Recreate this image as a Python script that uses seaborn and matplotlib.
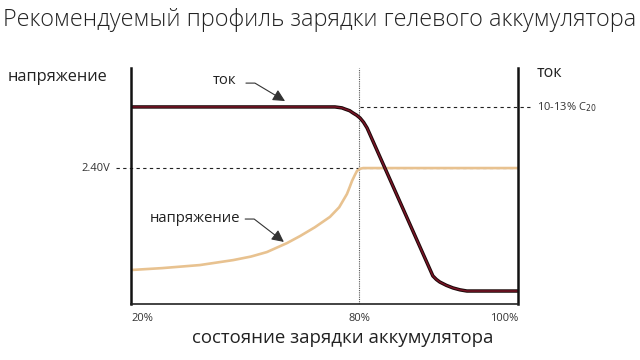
import pandas as pd
import matplotlib.pyplot as plt
import matplotlib.patheffects as pe
import seaborn as sns

# Curves (x: 0..100 along the axis, y: 0..100 up the axis)
current_x = [0, 52.7, 54.5, 55.3, 56.5, 57.4, 58.3, 59.2, 60.1, 61.0, 78.0, 78.9, 79.8, 81.5, 83.2, 85.0, 86.8, 100]
current_y = [83.5, 83.5, 83.1, 82.6, 81.9, 80.9, 80.0, 78.8, 77.0, 74.6, 11.9, 10.4, 9.3, 7.9, 6.8, 6.0, 5.5, 5.5]
voltage_x = [0, 8.0, 17.8, 26.4, 31.0, 35.1, 40.3, 43.7, 47.5, 51.4, 53.8, 55.8, 56.5, 57.1, 57.8, 58.4, 59.2, 60.0, 100]
voltage_y = [14.4, 15.2, 16.5, 18.6, 20.1, 22.0, 25.8, 28.8, 32.5, 36.9, 41.0, 46.6, 49.5, 52.1, 54.5, 56.4, 57.3, 57.6, 57.6]

tick_pos = [0, 58.9, 100]
tick_labels = ["20%", "80%", "100%"]
v_level = 57.6
i_level = 83.5

sns.set_theme(style="white")
plt.rcParams["font.family"] = ["Open Sans", "DejaVu Sans"]

df_i = pd.DataFrame({"x": current_x, "y": current_y})
df_v = pd.DataFrame({"x": voltage_x, "y": voltage_y})

fig = plt.figure(figsize=(6.4, 3.6), dpi=100)
ax = fig.add_axes([131 / 640, 56 / 360, 387 / 640, 236 / 360])

# reference lines
ax.plot([-4, 100], [v_level, v_level], ls=(0, (3, 3)), color="#222", lw=0.8, clip_on=False)
ax.plot([59.2, 103], [i_level, i_level], ls=(0, (3, 3)), color="#222", lw=0.8, clip_on=False)
ax.axvline(tick_pos[1], ls=(0, (1, 1)), color="#555", lw=0.8)

sns.lineplot(data=df_v, x="x", y="y", ax=ax, color="#e8c290", lw=1.9,
             sort=False, solid_capstyle="butt", solid_joinstyle="round")
sns.lineplot(data=df_i, x="x", y="y", ax=ax, color="#7a1426", lw=1.1,
             sort=False, solid_capstyle="butt", solid_joinstyle="round",
             path_effects=[pe.Stroke(linewidth=2.5, foreground="#1a0808"), pe.Normal()])

ax.set_xlim(0, 100)
ax.set_ylim(0, 100)
ax.set_xticks([])
ax.set_yticks([])
ax.set_xlabel("")
ax.set_ylabel("")
ax.spines["top"].set_visible(False)
for s in ["left", "right"]:
    ax.spines[s].set_linewidth(1.8)
    ax.spines[s].set_color("#111")
ax.spines["bottom"].set_linewidth(1.2)
ax.spines["bottom"].set_color("#222")

# tick labels
small = dict(fontsize=8, color="#333", transform=ax.transData, va="center")
ax.text(tick_pos[0], -6, tick_labels[0], ha="left", **small)
ax.text(tick_pos[1], -6, tick_labels[1], ha="center", **small)
ax.text(tick_pos[2], -6, tick_labels[2], ha="right", **small)
ax.text(-5.5, v_level, "2.40V", ha="right", **small)
ax.text(105, i_level, "10-13% C$_{20}$", ha="left", **small)

# axis titles
fig.text(8 / 640, 1 - 77 / 360, "напряжение", fontsize=11.8, color="#222", va="center")
fig.text(537 / 640, 1 - 73 / 360, "ток", fontsize=11.5, color="#222", va="center")
fig.text(343 / 640, 1 - 338 / 360, "состояние зарядки аккумулятора", fontsize=13.4,
         color="#222", ha="center", va="center")
fig.text(320 / 640, 1 - 20 / 360, "Рекомендуемый профиль зарядки гелевого аккумулятора",
         fontsize=16.8, color="#222", ha="center", va="center", fontweight="light")

# curve annotations
arrow = dict(arrowstyle="-|>,head_length=0.6,head_width=0.3", color="#333", lw=0.8,
             connectionstyle="arc,angleA=0,armA=9,angleB=0,armB=0,rad=0",
             shrinkA=0, shrinkB=0)
ax.text(27.1, 94.9, "ток", fontsize=10.7, color="#222", ha="right", va="center")
ax.annotate("", xy=(39.8, 86.0), xytext=(29.7, 93.6), arrowprops=arrow)
ax.text(28.2, 36.4, "напряжение", fontsize=10.7, color="#222", ha="right", va="center")
ax.annotate("", xy=(39.5, 26.3), xytext=(29.5, 36.0), arrowprops=arrow)

fig.savefig("out.png", dpi=100)
